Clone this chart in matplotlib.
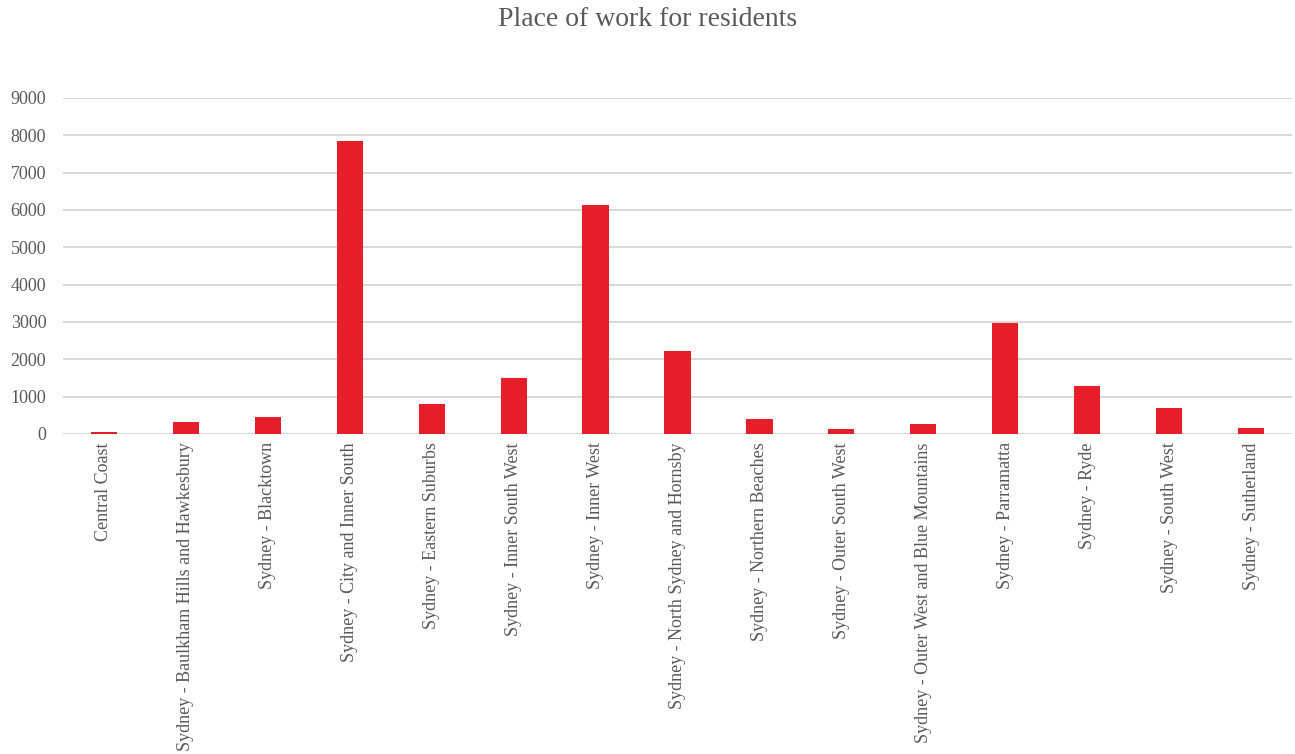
import matplotlib
matplotlib.use("Agg")
import matplotlib.pyplot as plt

categories = [
    "Central Coast",
    "Sydney - Baulkham Hills and Hawkesbury",
    "Sydney - Blacktown",
    "Sydney - City and Inner South",
    "Sydney - Eastern Suburbs",
    "Sydney - Inner South West",
    "Sydney - Inner West",
    "Sydney - North Sydney and Hornsby",
    "Sydney - Northern Beaches",
    "Sydney - Outer South West",
    "Sydney - Outer West and Blue Mountains",
    "Sydney - Parramatta",
    "Sydney - Ryde",
    "Sydney - South West",
    "Sydney - Sutherland",
]
values = [55, 322, 447, 7855, 795, 1492, 6130, 2234, 402, 125, 268, 2985, 1287, 688, 170]
yticks = [0, 1000, 2000, 3000, 4000, 5000, 6000, 7000, 8000, 9000]

plt.rcParams['font.family'] = ['Liberation Serif', 'DejaVu Serif']
text_color = "#595959"

fig = plt.figure(figsize=(12.95, 7.54), dpi=100)
ax = fig.add_axes([63/1295, 1 - 434/754, (1292-63)/1295, (434-98)/754])

x = list(range(len(categories)))
ax.bar(x, values, width=0.32, color="#E61E29", zorder=3)

ax.set_xlim(-0.5, len(categories) - 0.5)
ax.set_ylim(0, 9000)
ax.set_yticks(yticks)
ax.set_yticklabels([str(v) for v in yticks], fontsize=13, color=text_color)
ax.set_xticks(x)
ax.set_xticklabels(categories, rotation=90, fontsize=13, color=text_color)
ax.tick_params(axis='both', length=0)
ax.tick_params(axis='y', pad=12)
ax.tick_params(axis='x', pad=6)
ax.grid(axis='y', color="#D9D9D9", linewidth=1.5, zorder=0)
for s in ['top', 'right', 'left', 'bottom']:
    ax.spines[s].set_visible(False)

fig.text(0.5, 1 - 20/754, "Place of work for residents", ha='center', va='center',
         fontsize=20, color=text_color)

fig.savefig("out.png", dpi=100)
